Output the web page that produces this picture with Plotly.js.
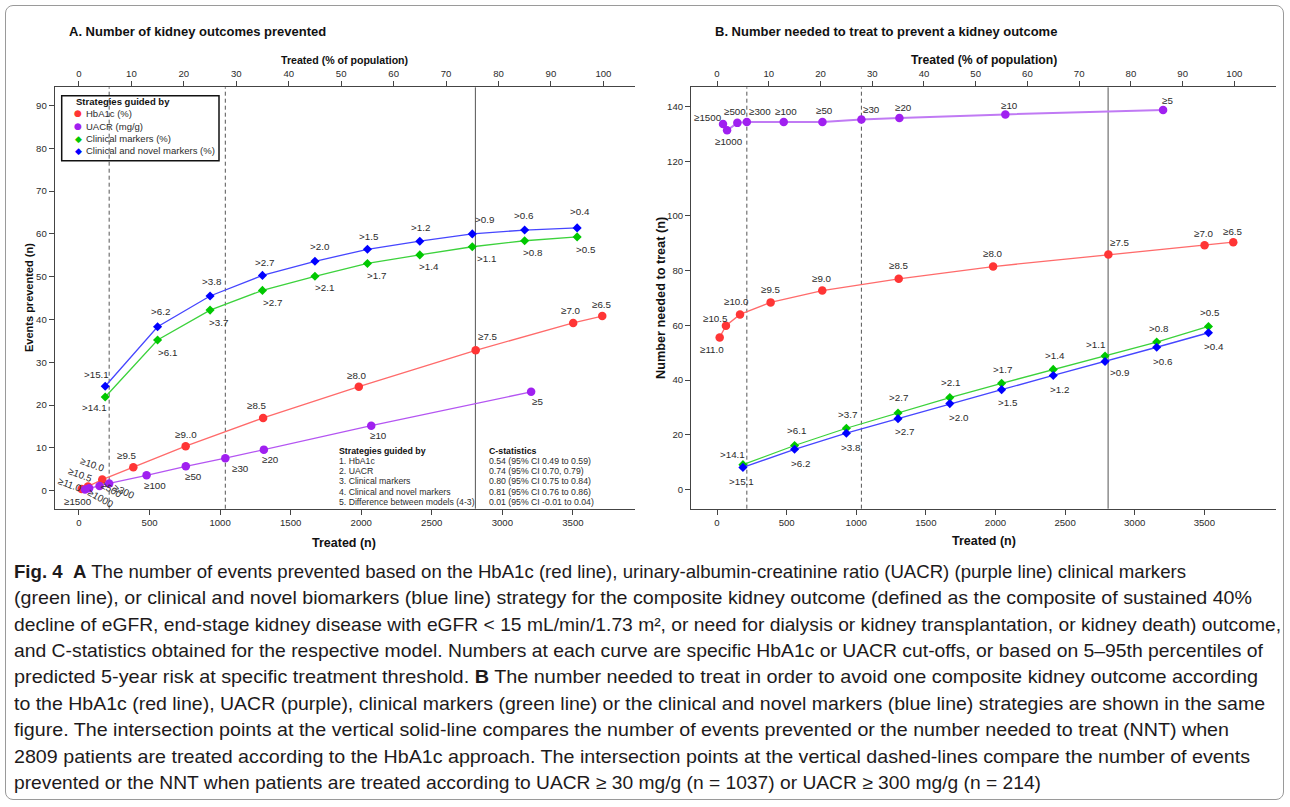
<!DOCTYPE html>
<html><head><meta charset="utf-8">
<script src="https://cdn.plot.ly/plotly-3.0.1.min.js"></script>
<style>
html,body{margin:0;padding:0;background:#fff;}
#wrap{position:relative;width:1290px;height:807px;overflow:hidden;background:#fff;}
#frame{position:absolute;left:5px;top:5px;width:1279px;height:795px;border:1px solid #9a9a9a;border-radius:8px;box-sizing:border-box;}
#chart{position:absolute;left:0;top:0;width:1290px;height:807px;}
#caption{position:absolute;left:14px;top:558.8px;font-family:"Liberation Sans",Arial,sans-serif;font-size:18.5px;color:#1d1a1b;white-space:nowrap;}
#caption div{height:26.4px;line-height:26.4px;}
#caption span.l{display:inline-block;transform-origin:0 50%;}
</style></head>
<body>
<div id="wrap">
<div id="frame"></div>
<div id="chart"></div>
<div id="caption">
<div><span class="l"><b>Fig. 4</b>&nbsp; <b>A</b> The number of events prevented based on the HbA1c (red line), urinary-albumin-creatinine ratio (UACR) (purple line) clinical markers</span></div>
<div><span class="l">(green line), or clinical and novel biomarkers (blue line) strategy for the composite kidney outcome (defined as the composite of sustained 40%</span></div>
<div><span class="l">decline of eGFR, end-stage kidney disease with eGFR &lt; 15 mL/min/1.73 m², or need for dialysis or kidney transplantation, or kidney death) outcome,</span></div>
<div><span class="l">and C-statistics obtained for the respective model. Numbers at each curve are specific HbA1c or UACR cut-offs, or based on 5–95th percentiles of</span></div>
<div><span class="l">predicted 5-year risk at specific treatment threshold. <b>B</b> The number needed to treat in order to avoid one composite kidney outcome according</span></div>
<div><span class="l">to the HbA1c (red line), UACR (purple), clinical markers (green line) or the clinical and novel markers (blue line) strategies are shown in the same</span></div>
<div><span class="l">figure. The intersection points at the vertical solid-line compares the number of events prevented or the number needed to treat (NNT) when</span></div>
<div><span class="l">2809 patients are treated according to the HbA1c approach. The intersection points at the vertical dashed-lines compare the number of events</span></div>
<div><span class="l">prevented or the NNT when patients are treated according to UACR ≥ 30 mg/g (n = 1037) or UACR ≥ 300 mg/g (n = 214)</span></div>
</div>
</div>
<script>
// ---------------- DATA ----------------
const TOTAL_N = 3716;
const pctTicks = [0, 10, 20, 30, 40, 50, 60, 70, 80, 90, 100];
const nTicks = [0, 500, 1000, 1500, 2000, 2500, 3000, 3500];
const yTicksA = [0, 10, 20, 30, 40, 50, 60, 70, 80, 90];
const yTicksB = [0, 20, 40, 60, 80, 100, 120, 140];
const dashedRefN = [214, 1037];
const solidRefN = [2809];

const hba1cLabelsA = ['≥11.0','≥10.5','≥10.0','≥9.5','≥9..0','≥8.5','≥8.0','≥7.5','≥7.0','≥6.5'];
const hba1cLabelsB = ['≥11.0','≥10.5','≥10.0','≥9.5','≥9.0','≥8.5','≥8.0','≥7.5','≥7.0','≥6.5'];
const hba1cTreated = [19, 64, 165, 385, 756, 1305, 1983, 2811, 3502, 3708];
const hba1cPrevented = [0.4, 1.0, 2.6, 5.5, 10.4, 17.0, 24.3, 32.8, 39.2, 40.8];
const hba1cNNT = [55.6, 59.9, 64.0, 68.4, 72.7, 77.0, 81.5, 85.9, 89.3, 90.4];

const uacrLabels = ['≥1500','≥1000','≥500','≥300','≥100','≥50','≥30','≥20','≥10','≥5'];
const uacrTreated = [43, 72, 146, 214, 479, 757, 1037, 1310, 2071, 3204];
const uacrPrevented = [0.3, 0.55, 1.1, 1.7, 3.6, 5.7, 7.6, 9.6, 15.2, 23.1];
const uacrNNT = [133.6, 131.3, 134.0, 134.3, 134.3, 134.3, 135.2, 135.8, 137.1, 138.7];

const riskTreated = [186, 557, 929, 1300, 1672, 2044, 2415, 2787, 3158, 3530];
const clinLabels = ['>14.1','>6.1','>3.7','>2.7','>2.1','>1.7','>1.4','>1.1','>0.8','>0.5'];
const clinPrevented = [21.9, 35.2, 42.2, 46.8, 50.1, 53.1, 55.1, 57.0, 58.4, 59.3];
const clinNNT = [9.1, 16.1, 22.4, 28.0, 33.6, 38.8, 43.9, 48.8, 53.9, 59.6];
const novelLabels = ['>15.1','>6.2','>3.8','>2.7','>2.0','>1.5','>1.2','>0.9','>0.6','>0.4'];
const novelPrevented = [24.4, 38.3, 45.5, 50.3, 53.6, 56.4, 58.3, 60.0, 60.9, 61.4];
const novelNNT = [8.1, 14.7, 20.6, 25.9, 31.4, 36.5, 41.7, 46.8, 52.0, 57.3];

const legendNames = ['HbA1c (%)', 'UACR (mg/g)', 'Clinical markers (%)', 'Clinical and novel markers (%)'];
const strategyNames = ['1. HbA1c', '2. UACR', '3. Clinical markers', '4. Clinical and novel markers', '5. Difference between models (4-3)'];
const cStatistics = ['0.54 (95% CI 0.49 to 0.59)', '0.74 (95% CI 0.70, 0.79)', '0.80 (95% CI 0.75 to 0.84)', '0.81 (95% CI 0.76 to 0.86)', '0.01 (95% CI -0.01 to 0.04)'];

// ---------------- STYLE ----------------
const W = 1290, H = 807;
const px = x => x / W, py = y => 1 - y / H;
const FONT = 'Liberation Sans, Arial, sans-serif';
const TXT = '#2b2b2b';
const AX = '#444';
const COL = {
  red: {m: '#ff3535', l: '#ff6b6b'},
  purple: {m: '#a020f0', l: '#b455f2'},
  green: {m: '#00c800', l: '#3cd23c'},
  blue: {m: '#0000ff', l: '#4646ff'}
};
// label offsets [dx, dy] in screen px (dy down), and rotation
const offA = {
  red: [[-12,-5],[-8,-12],[-10,-15],[-6,-12],[0,-12],[-6,-12],[-2,-11],[12,-14],[-2,-12],[0,-12]],
  redAng: [20,20,20,0,0,0,0,0,0,0],
  purple: [[-7,12],[12,10],[12,3],[15,8],[8,10],[8,10],[15,10],[7,10],[7,10],[6,10]],
  purpleAng: [0,30,30,25,0,0,0,0,0,0],
  green: [[-11,11],[10,12],[8,12],[10,12],[10,11],[9,12],[9,12],[14,12],[8,12],[9,13]],
  blue: [[-9,-12],[3,-15],[2,-14],[2,-13],[5,-15],[2,-13],[1,-14],[12,-14],[-1,-15],[3,-16]]
};
const offB = {
  red: [[-8,12],[-10,-7],[-4,-13],[0,-13],[0,-12],[0,-13],[0,-13],[12,-12],[-1,-12],[0,-11]],
  purple: [[-15,-6],[2,11],[-2,-11],[13,-11],[2,-11],[2,-12],[10,-10],[4,-10],[4,-9],[4,-10]],
  green: [[-10,-10],[2,-15],[1,-14],[0,-15],[1,-15],[1,-14],[2,-14],[-10,-12],[2,-14],[2,-14]],
  blue: [[-1,14],[6,14],[5,14],[6,13],[9,14],[6,13],[6,14],[14,11],[6,14],[6,14]]
};
// caption line right edges (px) in the reference
const captionRightEdge = [1186, 1252, 1281, 1263, 1258, 1265, 1229, 1250, 1041];

function series(x, y, c, sym, xa, ya, msize) {
  return {x: x, y: y, xaxis: xa, yaxis: ya, mode: 'lines+markers', type: 'scatter',
    hoverinfo: 'skip', showlegend: false,
    line: {color: c.l, width: 1.3},
    marker: {symbol: sym, size: msize, color: c.m, line: {width: 0}}};
}
const data = [
  series(hba1cTreated, hba1cPrevented, COL.red, 'circle', 'x', 'y', 8.5),
  series(uacrTreated, uacrPrevented, COL.purple, 'circle', 'x', 'y', 8.5),
  series(riskTreated, clinPrevented, COL.green, 'diamond', 'x', 'y', 7),
  series(riskTreated, novelPrevented, COL.blue, 'diamond', 'x', 'y', 7),
  series(hba1cTreated, hba1cNNT, COL.red, 'circle', 'x2', 'y2', 8.5),
  series(uacrTreated, uacrNNT, COL.purple, 'circle', 'x2', 'y2', 8.5),
  series(riskTreated, clinNNT, COL.green, 'diamond', 'x2', 'y2', 7),
  series(riskTreated, novelNNT, COL.blue, 'diamond', 'x2', 'y2', 7),
  {x: [], y: [], xaxis: 'x3', yaxis: 'y', type: 'scatter', showlegend: false, hoverinfo: 'skip'},
  {x: [], y: [], xaxis: 'x4', yaxis: 'y2', type: 'scatter', showlegend: false, hoverinfo: 'skip'}
];
data[5].line.width = 2; data[5].line.color = '#c07af4';

const ann = [];
function labels(xs, ys, texts, offs, angs, xr, yr) {
  xs.forEach((x, i) => ann.push({x: x, y: ys[i], xref: xr, yref: yr, text: texts[i], showarrow: false,
    xshift: offs[i][0], yshift: -offs[i][1], textangle: angs ? angs[i] : 0,
    xanchor: 'center', yanchor: 'middle', font: {family: FONT, size: 9.8, color: TXT}}));
}
labels(hba1cTreated, hba1cPrevented, hba1cLabelsA, offA.red, offA.redAng, 'x', 'y');
labels(uacrTreated, uacrPrevented, uacrLabels, offA.purple, offA.purpleAng, 'x', 'y');
labels(riskTreated, clinPrevented, clinLabels, offA.green, null, 'x', 'y');
labels(riskTreated, novelPrevented, novelLabels, offA.blue, null, 'x', 'y');
labels(hba1cTreated, hba1cNNT, hba1cLabelsB, offB.red, null, 'x2', 'y2');
labels(uacrTreated, uacrNNT, uacrLabels, offB.purple, null, 'x2', 'y2');
labels(riskTreated, clinNNT, clinLabels, offB.green, null, 'x2', 'y2');
labels(riskTreated, novelNNT, novelLabels, offB.blue, null, 'x2', 'y2');

function ptext(text, x, y, opts) {
  ann.push(Object.assign({text: text, x: px(x), y: py(y), xref: 'paper', yref: 'paper', showarrow: false,
    xanchor: 'left', yanchor: 'middle', font: {family: FONT, size: 10, color: TXT}}, opts || {}));
}
const f = (size, color) => ({family: FONT, size: size, color: color || '#111'});
// panel titles
ptext('<b>A. Number of kidney outcomes prevented</b>', 67, 31, {font: f(13)});
ptext('<b>B. Number needed to treat to prevent a kidney outcome</b>', 713, 31, {font: f(13)});
// axis titles
ptext('<b>Treated (% of population)</b>', 344, 60, {xanchor: 'center', font: f(10.6)});
ptext('<b>Treated (n)</b>', 344, 543, {xanchor: 'center', font: f(12.5)});
ptext('<b>Events prevented (n)</b>', 29, 298, {xanchor: 'center', textangle: -90, font: f(11)});
ptext('<b>Treated (% of population)</b>', 984, 60, {xanchor: 'center', font: f(12.2)});
ptext('<b>Treated (n)</b>', 984, 541, {xanchor: 'center', font: f(12.5)});
ptext('<b>Number needed to treat (n)</b>', 661, 298, {xanchor: 'center', textangle: -90, font: f(12.7)});
// legend
ptext('<b>Strategies guided by</b>', 74, 102, {font: f(9.5)});
const legCols = [COL.red.m, COL.purple.m, COL.green.m, COL.blue.m];
const legSyms = ['●', '●', '◆', '◆'];
const legY = [113.5, 126, 138.5, 151];
legendNames.forEach((n, i) => {
  ptext(legSyms[i], 78, legY[i], {xanchor: 'center', font: {family: 'DejaVu Sans', size: 9, color: legCols[i]}});
  ptext(n, 84, legY[i], {font: f(9.5, TXT)});
});
// bottom tables
const tabY = [450.5, 461, 471, 481.3, 491.6, 501.9];
ptext('<b>Strategies guided by</b>', 337, tabY[0], {font: f(8.8)});
ptext('<b>C-statistics</b>', 486.5, tabY[0], {font: f(8.8)});
strategyNames.forEach((s, i) => ptext(s, 337, tabY[i + 1], {font: f(8.7, TXT)}));
cStatistics.forEach((s, i) => ptext(s, 486.5, tabY[i + 1], {font: f(8.7, TXT)}));

const shapes = [];
function vlines(xr, yr) {
  dashedRefN.forEach(v => shapes.push({type: 'line', xref: xr, yref: yr + ' domain', x0: v, x1: v, y0: 0, y1: 1,
    layer: 'below', line: {color: '#555', width: 1, dash: '4px,3px'}}));
  solidRefN.forEach(v => shapes.push({type: 'line', xref: xr, yref: yr + ' domain', x0: v, x1: v, y0: 0, y1: 1,
    layer: 'below', line: {color: '#555', width: 1}}));
}
vlines('x', 'y'); vlines('x2', 'y2');
shapes.push({type: 'rect', xref: 'paper', yref: 'paper', x0: px(61.7), x1: px(219), y0: py(160.7), y1: py(95.7),
  line: {color: '#111', width: 1.5}, fillcolor: 'rgba(0,0,0,0)'});

const axBase = {showgrid: false, zeroline: false, showline: true, linecolor: AX, linewidth: 1,
  ticks: 'outside', ticklen: 5, tickwidth: 1, tickcolor: AX, tickfont: {family: FONT, size: 9.6, color: TXT},
  fixedrange: true};
const domAx = [px(54.7), px(635)], domBx = [px(691), px(1276)];
const domY = [py(508.7), py(87.3)];
const rangeA = [-172, 3940], rangeB = [-187, 4015];
const pctVals = pctTicks.map(p => p * TOTAL_N / 100);
const layout = {
  width: W, height: H, margin: {l: 0, r: 0, t: 0, b: 0},
  paper_bgcolor: 'rgba(0,0,0,0)', plot_bgcolor: 'rgba(0,0,0,0)', showlegend: false,
  xaxis: Object.assign({}, axBase, {domain: domAx, range: rangeA, tickvals: nTicks, anchor: 'y'}),
  yaxis: Object.assign({}, axBase, {domain: domY, range: [-4.2, 94.25], tickvals: yTicksA, anchor: 'x'}),
  xaxis3: Object.assign({}, axBase, {overlaying: 'x', side: 'top', anchor: 'y', range: rangeA,
    tickvals: pctVals, ticktext: pctTicks.map(String)}),
  xaxis2: Object.assign({}, axBase, {domain: domBx, range: rangeB, tickvals: nTicks, anchor: 'y2'}),
  yaxis2: Object.assign({}, axBase, {domain: domY, range: [-7.0, 147.0], tickvals: yTicksB, anchor: 'x2'}),
  xaxis4: Object.assign({}, axBase, {overlaying: 'x2', side: 'top', anchor: 'y2', range: rangeB,
    tickvals: pctVals, ticktext: pctTicks.map(String)}),
  annotations: ann, shapes: shapes
};
Plotly.newPlot('chart', data, layout, {displayModeBar: false, staticPlot: true});

// caption: fit each line to the reference line length
(function () {
  const spans = document.querySelectorAll('#caption span.l');
  spans.forEach((sp, i) => {
    const w = sp.getBoundingClientRect().width;
    if (w > 0) sp.style.transform = 'scaleX(' + ((captionRightEdge[i] - 14) / w) + ')';
  });
})();
</script>
</body></html>
